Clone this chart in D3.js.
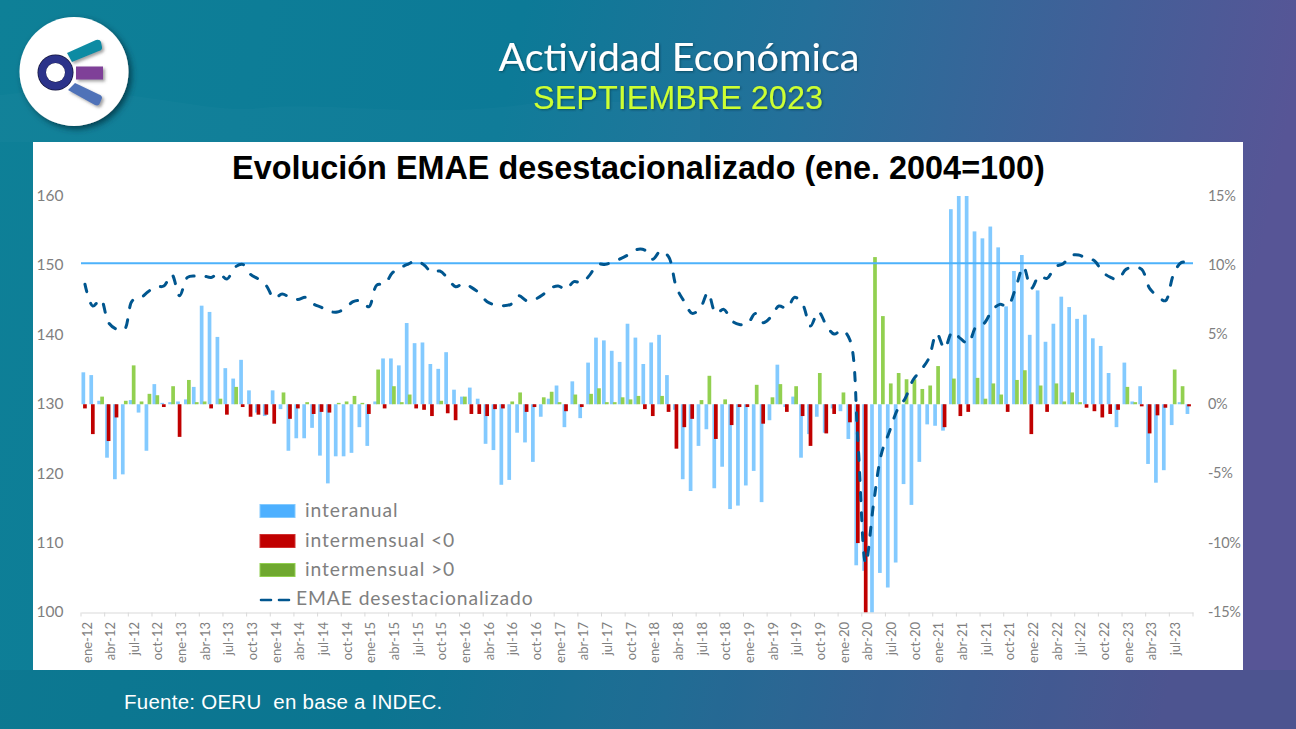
<!DOCTYPE html>
<html><head><meta charset="utf-8">
<script src="https://cdn.jsdelivr.net/npm/d3@7/dist/d3.min.js"></script>
<style>html,body{margin:0;padding:0;background:#0a7e97;overflow:hidden}svg{display:block}</style>
</head><body><svg id="c" width="1296" height="729"></svg>
<script>
const mesesCortos = ["ene","feb","mar","abr","may","jun","jul","ago","sep","oct","nov","dic"];
const anios = ["12","13","14","15","16","17","18","19","20","21","22","23"];
const categorias = anios.flatMap(a => mesesCortos.map(m => m + "-" + a)).slice(0, 141);
const ticksX = categorias.filter((d, i) => i % 3 === 0);
const ticksIzq = [100,110,120,130,140,150,160];
const ticksDer = [-15,-10,-5,0,5,10,15];
const nivelActual = 150.3;

const interanual = [
 2.3,2.1,0.25,-3.85,-5.4,-5.05,0.3,-0.6,-3.35,1.45,0.1,0.15,
 0.2,0.35,1.25,7.1,6.65,4.85,2.6,1.85,3.2,1.0,-0.6,-0.85,
 1.0,-0.35,-3.35,-2.45,-2.45,-1.7,-3.7,-5.7,-3.75,-3.75,-3.5,-1.65,
 -3.0,0.2,3.3,3.3,2.8,5.85,4.4,4.45,2.9,2.55,3.75,1.05,
 0.55,1.2,0.4,-2.85,-3.3,-5.8,-5.45,-2.05,-2.75,-4.15,-0.9,0.4,
 1.35,-1.65,1.65,-1.0,3.0,4.8,4.6,3.85,3.05,5.8,4.8,2.9,
 4.45,5.0,2.1,-0.4,-5.4,-6.25,-3.0,-1.8,-6.05,-4.5,-7.55,-7.3,
 -5.85,-4.8,-7.05,-1.15,2.85,-0.2,0.55,-3.85,-2.15,-0.9,-2.05,-0.3,
 -0.5,-2.5,-11.6,-12.0,-15.3,-12.15,-13.2,-11.4,-5.75,-7.25,-4.15,-1.45,
 -1.55,-1.9,14.05,15.2,15.2,12.45,11.95,12.8,11.3,7.05,9.6,10.75,
 5.0,8.2,4.5,5.8,7.75,7.0,6.15,6.45,4.75,4.2,2.25,-1.65,
 3.0,0.2,1.3,-4.3,-5.65,-4.75,-1.5,0.15,-0.7];
const intermensual = [
 -0.3,-2.15,0.55,-2.65,-0.95,0.25,2.8,0.2,0.75,0.65,-0.2,1.3,
 -2.35,1.75,0.15,0.2,-0.3,0.4,-0.75,1.25,-0.2,-0.9,-0.75,-0.75,
 -1.4,0.85,-1.05,-0.3,0.15,-0.7,-0.55,-0.6,0.1,0.2,0.6,0.1,
 -0.7,2.5,-0.3,1.3,0.15,0.7,-0.3,-0.4,-0.85,0.25,-0.65,-1.15,
 0.55,-0.7,-0.7,-0.85,-0.35,-0.3,0.2,0.85,-0.55,-0.2,0.5,0.9,
 0.15,-0.5,0.7,-0.2,0.75,1.15,0.15,0.15,0.5,0.35,0.6,-0.35,
 -0.85,0.6,-0.55,-3.2,-1.65,-1.05,0.3,2.05,-2.5,0.35,-1.5,-0.2,
 -0.2,1.4,-1.4,0.5,1.45,-0.55,1.3,-0.85,-3.0,2.25,-2.1,-0.7,
 0.85,-1.3,-10.0,-16,10.6,6.35,1.5,2.25,1.8,1.8,1.1,1.35,
 2.75,-1.65,1.85,-0.85,-0.55,1.9,0.4,1.5,0.7,-0.55,1.75,2.45,
 -2.15,1.35,-0.55,1.5,0.2,0.85,0.15,-0.25,-0.5,-0.95,-0.7,-0.4,
 1.25,0.15,-0.15,-2.1,-0.8,-0.25,2.5,1.3,-0.15];
const emae = [
 147.3,144.14,145.1,141.74,140.83,140.78,144.9,145.25,146.2,146.93,147.03,148.7,
 145.63,148.27,148.47,148.5,148.27,148.85,148.03,149.72,150.15,148.7,148.03,147.07,
 145.25,145.87,145.39,145.1,145.39,144.43,143.95,143.38,143.28,143.81,144.77,144.91,
 144.05,147.17,147.31,148.95,149.67,150.2,150.68,150.05,149.0,149.19,148.14,146.93,
 147.4,146.84,146.0,144.77,144.3,144.2,144.39,145.64,144.92,145.1,145.73,146.7,
 147.03,146.55,147.66,147.51,148.6,150.15,150.15,150.54,151.0,151.6,152.3,152.2,
 150.9,152.1,151.26,146.84,144.77,143.09,143.81,146.07,143.09,143.67,142.04,141.5,
 141.55,143.09,141.75,142.6,144.15,143.81,145.4,144.4,141.27,143.33,141.41,140.11,
 140.69,139.25,124.84,107.07,115.7,122.9,126.04,129.16,130.84,133.48,134.92,136.6,
 140.2,138.05,140.45,139.49,138.77,141.17,141.65,143.47,144.39,144.15,146.69,149.81,
 146.69,148.47,148.13,149.81,150.2,151.4,151.5,151.0,150.68,149.1,148.3,148.0,
 149.43,149.72,149.43,146.69,145.59,144.91,148.6,150.4,150.4];

const svg = d3.select("#c");
const defs = svg.append("defs");
const bg = defs.append("linearGradient").attr("id","bg").attr("x1","0").attr("y1","0").attr("x2","1").attr("y2","0.12");
[[0,"#0e8097"],[0.4,"#0c7a97"],[0.62,"#24709a"],[0.85,"#435f98"],[1,"#575596"]].forEach(s=>bg.append("stop").attr("offset",s[0]).attr("stop-color",s[1]));
const sh = defs.append("filter").attr("id","sh").attr("x","-30%").attr("y","-30%").attr("width","170%").attr("height","170%");
sh.append("feDropShadow").attr("dx",3).attr("dy",3).attr("stdDeviation",3).attr("flood-color","#00303c").attr("flood-opacity",0.8);
const sh2 = defs.append("filter").attr("id","sh2").attr("x","-30%").attr("y","-40%").attr("width","170%").attr("height","190%");
sh2.append("feDropShadow").attr("dx",2).attr("dy",2).attr("stdDeviation",1.5).attr("flood-color","#555").attr("flood-opacity",0.55);
const sh3 = defs.append("filter").attr("id","sh3").attr("x","-5%").attr("y","-20%").attr("width","110%").attr("height","140%");
sh3.append("feDropShadow").attr("dx",1).attr("dy",1).attr("stdDeviation",1.2).attr("flood-color","#003040").attr("flood-opacity",0.6);
defs.append("clipPath").attr("id","plot").append("rect").attr("x",70).attr("y",196).attr("width",1130).attr("height",416.5);

svg.append("rect").attr("width",1296).attr("height",729).attr("fill","url(#bg)");
svg.append("path").attr("d","M0 95 C 120 80 200 115 260 108 S 420 118 520 105 S 660 112 700 110 V 142 H 0 Z").attr("fill","#ffffff").attr("opacity",0.02);
svg.append("rect").attr("y",670).attr("width",1296).attr("height",59).attr("fill","#07506a").attr("opacity",0.12);
svg.append("rect").attr("x",33).attr("y",142).attr("width",1210).attr("height",528).attr("fill","#fff");

// logo
const logo = svg.append("g");
logo.append("circle").attr("cx",74).attr("cy",71.5).attr("r",54.5).attr("fill","#fff").attr("filter","url(#sh)");
const rays = logo.append("g").attr("filter","url(#sh2)");
rays.append("path").attr("d","M67 53 L96 40 Q100 39 101 42 L102 47 Q102.5 50 99 51 L72 62 Z").attr("fill","#0f8ba3");
rays.append("rect").attr("x",76).attr("y",66.5).attr("width",27).attr("height",13).attr("fill","#7f3f98");
rays.append("path").attr("d","M75 83 L68 90 L95 105 Q99 106.5 100 103 L102 98 Q102 95.5 99 94.5 Z").attr("fill","#4f72b8");
logo.append("circle").attr("cx",55.5).attr("cy",72.5).attr("r",18).attr("fill","#14143a");
logo.append("circle").attr("cx",55.5).attr("cy",72.5).attr("r",13.5).attr("fill","none").attr("stroke","#2c338a").attr("stroke-width",7.5);
logo.append("circle").attr("cx",55.5).attr("cy",72.5).attr("r",9.5).attr("fill","#fff");

// headers
svg.append("text").attr("x",679).attr("y",71).attr("text-anchor","middle").attr("font-family","Lato").attr("font-weight",400).attr("font-size",39.5).attr("fill","#fff").attr("filter","url(#sh3)").text("Actividad Económica");
svg.append("text").attr("x",678).attr("y",108.5).attr("text-anchor","middle").attr("font-family","Liberation Sans").attr("font-size",32.4).attr("fill","#ccff33").attr("filter","url(#sh3)").text("SEPTIEMBRE 2023");
svg.append("text").attr("x",638.5).attr("y",179).attr("text-anchor","middle").attr("font-family","Liberation Sans").attr("font-weight",700).attr("font-size",32.4).attr("fill","#000").text("Evolución EMAE desestacionalizado (ene. 2004=100)");
svg.append("text").attr("x",124).attr("y",709).attr("font-family","Liberation Sans").attr("font-size",20.5).attr("fill","#fff").attr("letter-spacing",0.25).attr("xml:space","preserve").text("Fuente: OERU  en base a INDEC.");

// scales
const x = d3.scaleBand().domain(categorias).range([81,1193]);
const yL = d3.scaleLinear().domain([100,160]).range([612.5,196]);
const yR = d3.scaleLinear().domain([-15,15]).range([612.5,196]);
const GRIS = "#7f7f7f";

const off = {interanual:-1.6, menor:0, mayor:1.4};
const W = 3.7;
const g = svg.append("g").attr("clip-path","url(#plot)");
const bar = (data, color, key) => g.append("g").selectAll("rect").data(data).join("rect")
  .attr("x", d => x(d.c) + x.bandwidth()/2 + off[key] - W/2)
  .attr("width", W)
  .attr("y", d => Math.min(yR(d.v), yR(0)))
  .attr("height", d => Math.abs(yR(d.v) - yR(0)))
  .attr("fill", color);
const rowsA = categorias.map((c,i)=>({c, v:interanual[i]}));
const rowsM = categorias.map((c,i)=>({c, v:intermensual[i]}));
bar(rowsA,"#83caff","interanual");
bar(rowsM.filter(d=>d.v>0),"#92d050","mayor");
bar(rowsM.filter(d=>d.v<0),"#c00000","menor");

g.append("line").attr("x1",81).attr("x2",1193).attr("y1",yL(nivelActual)).attr("y2",yL(nivelActual)).attr("stroke","#4db2fb").attr("stroke-width",2);

const linea = d3.line().x((d,i)=>x(categorias[i])+x.bandwidth()/2).y(d=>yL(d)).curve(d3.curveCatmullRom.alpha(0.5));
g.append("path").attr("d",linea(emae)).attr("fill","none").attr("stroke","#00568f").attr("stroke-width",3).attr("stroke-dasharray","8 12").attr("stroke-linecap","round");

// axes
const style = (sel, size) => { sel.selectAll("text").attr("font-family","Lato").attr("font-size",size).attr("fill",GRIS); };
const ax = svg.append("g").attr("transform","translate(0,612.5)").call(d3.axisBottom(x).tickValues(ticksX).tickSize(4).tickSizeOuter(0));
ax.select(".domain").attr("stroke","#d9d9d9").attr("stroke-width",1.2);
ax.selectAll(".tick line").attr("stroke","#d9d9d9").attr("x1",-x.step()/2).attr("x2",-x.step()/2);
style(ax,13);
ax.selectAll("text").attr("text-anchor","end").attr("transform","rotate(-90)").attr("x",-9.5).attr("y",2).attr("dy","0.35em");
svg.append("line").attr("x1",1193).attr("x2",1193).attr("y1",612.5).attr("y2",616.5).attr("stroke","#d9d9d9");

const al = svg.append("g").attr("transform","translate(63.5,-0.5)").call(d3.axisLeft(yL).tickValues(ticksIzq).tickSize(0).tickPadding(0));
al.select(".domain").remove(); style(al,15.5);
const ar = svg.append("g").attr("transform","translate(1208,-0.5)").call(d3.axisRight(yR).tickValues(ticksDer).tickSize(0).tickPadding(0).tickFormat(d=>d+"%"));
ar.select(".domain").remove(); style(ar,14.5);
ar.selectAll("text").attr("letter-spacing",-0.3);

// legend
const leg = svg.append("g").attr("font-family","Lato").attr("font-size",19.3).attr("fill",GRIS).attr("letter-spacing",0.9);
[["interanual","#4db0ff","#83caff",511],["intermensual <0","#c00000","#d03030",541],["intermensual >0","#6fa82f","#92d050",570]].forEach(r=>{
  leg.append("rect").attr("x",260).attr("y",r[3]-6.5).attr("width",35).attr("height",13).attr("fill",r[1]).attr("stroke",r[2]).attr("stroke-width",1);
  leg.append("text").attr("x",305).attr("y",r[3]).attr("dy","0.33em").text(r[0]);
});
leg.append("line").attr("x1",261).attr("x2",290).attr("y1",600).attr("y2",600).attr("stroke","#00568f").attr("stroke-width",2.6).attr("stroke-dasharray","10 8").attr("stroke-linecap","round");
leg.append("text").attr("x",296).attr("y",599).attr("dy","0.33em").text("EMAE desestacionalizado");
</script></body></html>
